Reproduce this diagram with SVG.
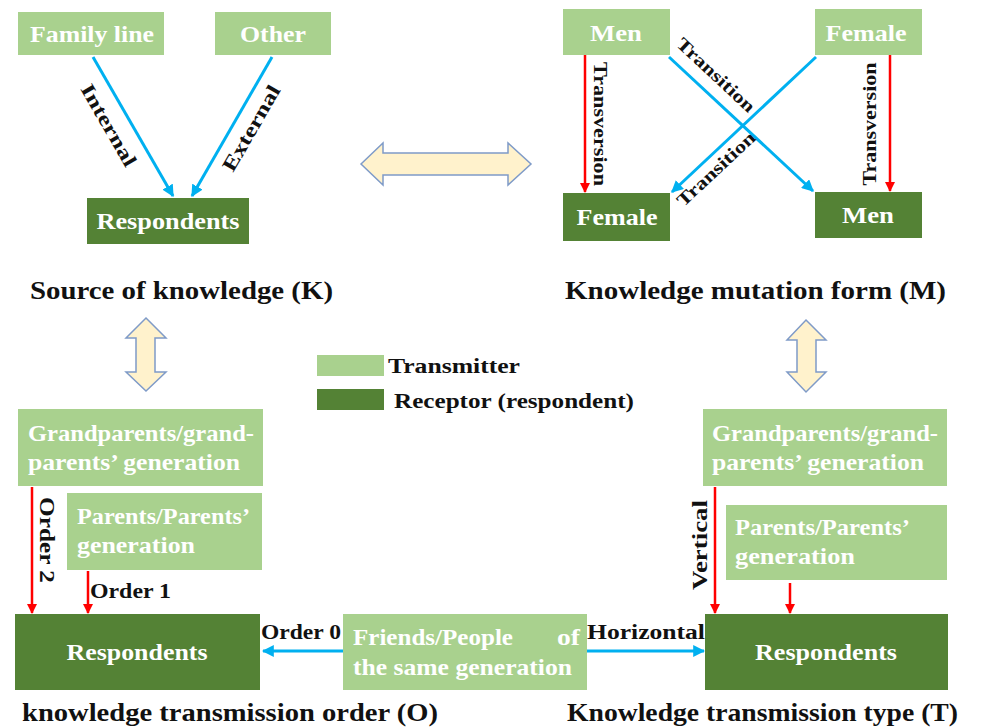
<svg xmlns="http://www.w3.org/2000/svg" width="985" height="727" viewBox="0 0 985 727">
<style>
.lt{fill:#A9D18E}
.dk{fill:#548235}
.bt{font-family:"Liberation Serif","DejaVu Serif",serif;font-weight:bold;fill:#ffffff;font-size:23px}
.lb{font-family:"Liberation Serif","DejaVu Serif",serif;font-weight:bold;fill:#111111;font-size:20px}
.cap{font-family:"Liberation Serif","DejaVu Serif",serif;font-weight:bold;fill:#111111;font-size:25px}
.blue{stroke:#00B0F0;stroke-width:3;fill:none;marker-end:url(#ab)}
.red{stroke:#FF0000;stroke-width:2.5;fill:none;marker-end:url(#ar)}
.dbl{fill:#FFF2CC;stroke:#7F9BC8;stroke-width:1.5}
</style>
<defs>
<marker id="ab" viewBox="0 0 10 10" refX="9" refY="5" markerWidth="4" markerHeight="4" orient="auto" markerUnits="strokeWidth"><path d="M0,0 L10,5 L0,10 z" fill="#00B0F0"/></marker>
<marker id="ar" viewBox="0 0 10 10" refX="9" refY="5" markerWidth="4" markerHeight="4" orient="auto" markerUnits="strokeWidth"><path d="M0,0 L10,5 L0,10 z" fill="#FF0000"/></marker>
</defs>
<rect width="985" height="727" fill="#ffffff"/>

<!-- Source of knowledge -->
<g id="familyline"><rect class="lt" x="18" y="12" width="146" height="43"/><text class="bt" x="92" y="42" text-anchor="middle" textLength="124" lengthAdjust="spacingAndGlyphs">Family line</text></g>
<g id="other"><rect class="lt" x="215" y="12" width="116" height="43"/><text class="bt" x="273" y="42" text-anchor="middle" textLength="66" lengthAdjust="spacingAndGlyphs">Other</text></g>
<g id="respK"><rect class="dk" x="87" y="198" width="162" height="46"/><text class="bt" x="168" y="229" text-anchor="middle" textLength="143" lengthAdjust="spacingAndGlyphs">Respondents</text></g>

<!-- Mutation -->
<g id="menTop"><rect class="lt" x="563" y="9" width="107" height="46"/><text class="bt" x="616" y="41" text-anchor="middle" textLength="52" lengthAdjust="spacingAndGlyphs">Men</text></g>
<g id="femaleTop"><rect class="lt" x="815" y="9" width="107" height="46"/><text class="bt" x="866" y="41" text-anchor="middle" textLength="81" lengthAdjust="spacingAndGlyphs">Female</text></g>
<g id="femaleBot"><rect class="dk" x="563" y="193" width="107" height="48"/><text class="bt" x="617" y="225" text-anchor="middle" textLength="81" lengthAdjust="spacingAndGlyphs">Female</text></g>
<g id="menBot"><rect class="dk" x="815" y="192" width="107" height="46"/><text class="bt" x="868" y="223" text-anchor="middle" textLength="52" lengthAdjust="spacingAndGlyphs">Men</text></g>

<!-- Legend -->
<g id="legend">
<rect class="lt" x="317" y="355" width="67" height="21"/>
<text class="lb" x="388" y="373" textLength="132" lengthAdjust="spacingAndGlyphs">Transmitter</text>
<rect class="dk" x="317" y="389" width="67" height="21"/>
<text class="lb" x="394" y="408" textLength="240" lengthAdjust="spacingAndGlyphs">Receptor (respondent)</text>
</g>

<!-- Order -->
<g id="grandO"><rect class="lt" x="18" y="409" width="245" height="77"/>
<text class="bt" x="28" y="441" textLength="226" lengthAdjust="spacingAndGlyphs">Grandparents/grand-</text>
<text class="bt" x="28" y="470" textLength="212" lengthAdjust="spacingAndGlyphs">parents’ generation</text></g>
<g id="parentsO"><rect class="lt" x="67" y="493" width="195" height="77"/>
<text class="bt" x="77" y="524" textLength="173" lengthAdjust="spacingAndGlyphs">Parents/Parents’</text>
<text class="bt" x="77" y="553" textLength="118" lengthAdjust="spacingAndGlyphs">generation</text></g>
<g id="respO"><rect class="dk" x="15" y="614" width="245" height="76"/><text class="bt" x="137" y="660" text-anchor="middle" textLength="141" lengthAdjust="spacingAndGlyphs">Respondents</text></g>

<g id="friends"><rect class="lt" x="343" y="614" width="244" height="76"/>
<text class="bt" x="353" y="645" textLength="160" lengthAdjust="spacingAndGlyphs">Friends/People</text>
<text class="bt" x="557" y="645" textLength="23" lengthAdjust="spacingAndGlyphs">of</text>
<text class="bt" x="353" y="675" textLength="219" lengthAdjust="spacingAndGlyphs">the same generation</text></g>

<!-- Type -->
<g id="grandT"><rect class="lt" x="703" y="409" width="244" height="77"/>
<text class="bt" x="712" y="441" textLength="226" lengthAdjust="spacingAndGlyphs">Grandparents/grand-</text>
<text class="bt" x="712" y="470" textLength="212" lengthAdjust="spacingAndGlyphs">parents’ generation</text></g>
<g id="parentsT"><rect class="lt" x="726" y="505" width="221" height="75"/>
<text class="bt" x="735" y="535" textLength="175" lengthAdjust="spacingAndGlyphs">Parents/Parents’</text>
<text class="bt" x="735" y="564" textLength="120" lengthAdjust="spacingAndGlyphs">generation</text></g>
<g id="respT"><rect class="dk" x="705" y="614" width="243" height="76"/><text class="bt" x="826" y="660" text-anchor="middle" textLength="142" lengthAdjust="spacingAndGlyphs">Respondents</text></g>

<!-- Big double arrows -->
<g id="dblH"><path class="dbl" d="M361,164 L383,143 L383,153 L508,153 L508,143 L531,164 L508,185 L508,175 L383,175 L383,185 Z"/></g>
<g id="dblVL"><path class="dbl" d="M146,318 L166,338 L155,338 L155,372 L166,372 L146,391 L126,372 L136,372 L136,338 L126,338 Z"/></g>
<g id="dblVR"><path class="dbl" d="M806,320 L826,340 L816,340 L816,372 L826,372 L806,392 L787,372 L797,372 L797,340 L787,340 Z"/></g>

<!-- Connectors -->
<g id="connectors">
<line class="blue" x1="93" y1="57" x2="173" y2="196"/>
<line class="blue" x1="272" y1="57" x2="192" y2="196"/>
<line class="red" x1="585" y1="55" x2="585" y2="192"/>
<line class="red" x1="890" y1="55" x2="890" y2="191"/>
<line class="blue" x1="669" y1="57" x2="813" y2="191"/>
<line class="blue" x1="816" y1="57" x2="672" y2="192"/>
<line class="red" x1="32" y1="487" x2="32" y2="613"/>
<line class="red" x1="88" y1="571" x2="88" y2="613"/>
<line class="blue" x1="343" y1="651" x2="263" y2="651"/>
<line class="blue" x1="587" y1="651" x2="704" y2="651"/>
<line class="red" x1="715" y1="487" x2="715" y2="613"/>
<line class="red" x1="790" y1="583" x2="790" y2="613"/>
</g>

<!-- Connector labels -->
<g id="labels">
<text class="lb" transform="translate(109,125) rotate(60)" x="0" y="7" text-anchor="middle" textLength="92" lengthAdjust="spacingAndGlyphs">Internal</text>
<text class="lb" transform="translate(251,128) rotate(-60)" x="0" y="7" text-anchor="middle" textLength="96" lengthAdjust="spacingAndGlyphs">External</text>
<text class="lb" transform="translate(600,124) rotate(90)" x="0" y="6" text-anchor="middle" textLength="124" lengthAdjust="spacingAndGlyphs" style="font-size:18px">Transversion</text>
<text class="lb" transform="translate(870,124) rotate(-90)" x="0" y="6" text-anchor="middle" textLength="123" lengthAdjust="spacingAndGlyphs" style="font-size:18px">Transversion</text>
<text class="lb" transform="translate(716,75) rotate(43)" x="0" y="6" text-anchor="middle" textLength="100" lengthAdjust="spacingAndGlyphs" style="font-size:18px">Transition</text>
<text class="lb" transform="translate(716,169) rotate(-43)" x="0" y="6" text-anchor="middle" textLength="100" lengthAdjust="spacingAndGlyphs" style="font-size:18px">Transition</text>
<text class="lb" transform="translate(47,540) rotate(90)" x="0" y="7" text-anchor="middle" textLength="86" lengthAdjust="spacingAndGlyphs">Order 2</text>
<text class="lb" x="90" y="598" textLength="81" lengthAdjust="spacingAndGlyphs">Order 1</text>
<text class="lb" x="261" y="639" textLength="80" lengthAdjust="spacingAndGlyphs">Order 0</text>
<text class="lb" x="587" y="639" textLength="118" lengthAdjust="spacingAndGlyphs">Horizontal</text>
<text class="lb" transform="translate(700,545) rotate(-90)" x="0" y="7" text-anchor="middle" textLength="90" lengthAdjust="spacingAndGlyphs">Vertical</text>
</g>

<!-- Captions -->
<g id="captions">
<text class="cap" x="30" y="299" textLength="303" lengthAdjust="spacingAndGlyphs">Source of knowledge (K)</text>
<text class="cap" x="565" y="299" textLength="381" lengthAdjust="spacingAndGlyphs">Knowledge mutation form (M)</text>
<text class="cap" x="22" y="721" textLength="416" lengthAdjust="spacingAndGlyphs">knowledge transmission order (O)</text>
<text class="cap" x="567" y="721" textLength="391" lengthAdjust="spacingAndGlyphs">Knowledge transmission type (T)</text>
</g>
</svg>
